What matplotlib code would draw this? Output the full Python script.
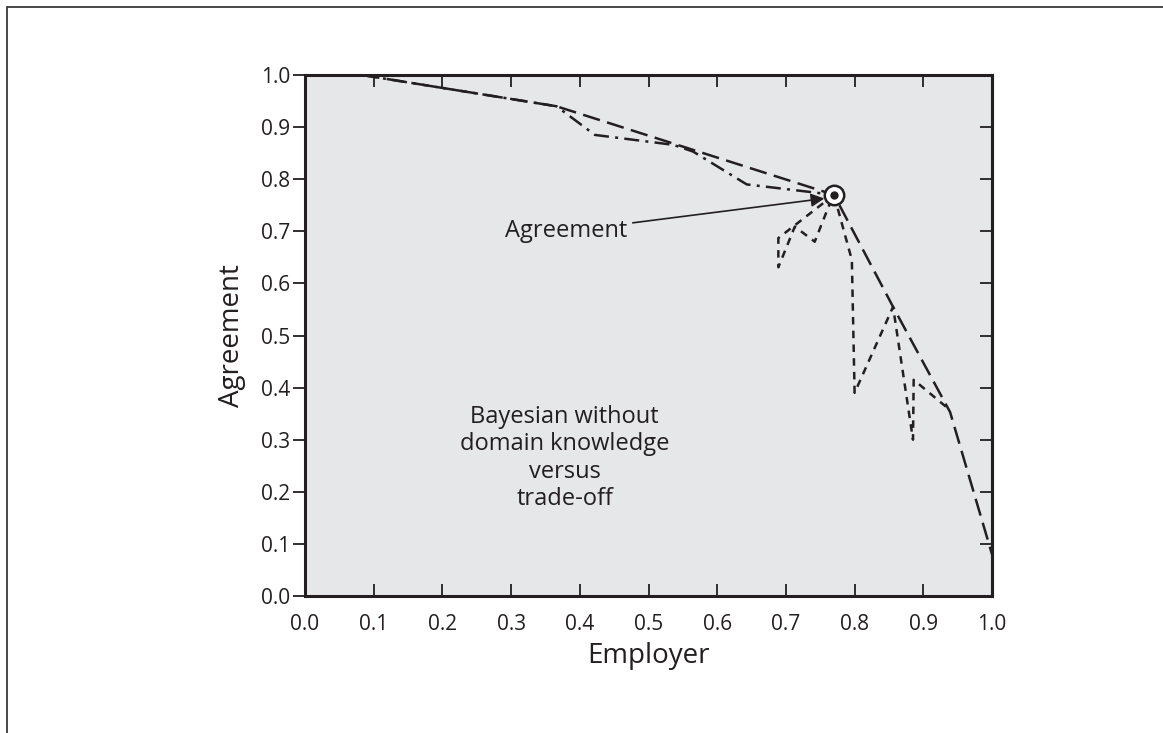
import matplotlib
matplotlib.use("Agg")
import matplotlib.pyplot as plt
from matplotlib.patches import Rectangle

# ---- data ----
dashed_x = [0.083, 0.366, 0.770, 0.856, 0.939, 1.000]
dashed_y = [1.000, 0.940, 0.770, 0.555, 0.353, 0.080]

dashdot_x = [0.083, 0.366, 0.422, 0.536, 0.565, 0.643, 0.770]
dashdot_y = [1.000, 0.940, 0.885, 0.866, 0.853, 0.790, 0.770]

dotted_x = [0.770, 0.689, 0.689, 0.713, 0.742, 0.762, 0.770,
            0.796, 0.800, 0.856, 0.885, 0.886, 0.936]
dotted_y = [0.770, 0.687, 0.631, 0.709, 0.680, 0.747, 0.770,
            0.645, 0.390, 0.555, 0.300, 0.415, 0.360]

agreement_pt = (0.770, 0.770)
ticks = [0.0, 0.1, 0.2, 0.3, 0.4, 0.5, 0.6, 0.7, 0.8, 0.9, 1.0]
tick_labels = ["0.0", "0.1", "0.2", "0.3", "0.4", "0.5", "0.6", "0.7", "0.8", "0.9", "1.0"]

plt.rcParams['font.family'] = ['Open Sans', 'DejaVu Sans']
INK = '#231f20'

fig = plt.figure(figsize=(11.63, 7.33), dpi=100)
fig.patch.set_facecolor('white')

# outer frame
fig.patches.append(Rectangle((7/1163, -0.05), 1.2, 1 - 7/733 + 0.05,
                             transform=fig.transFigure, fill=False,
                             edgecolor='#3a3a3a', linewidth=1.3))

ax = fig.add_axes([305/1163, 1 - 596/733, 687/1163, 521/733])
ax.set_facecolor('#e6e7e8')
ax.set_xlim(0, 1)
ax.set_ylim(0, 1)

ax.plot(dashed_x, dashed_y, color=INK, lw=1.8, dashes=(7, 3))
ax.plot(dashdot_x, dashdot_y, color=INK, lw=1.8, dashes=(6, 2.5, 1.2, 2.5))
ax.plot(dotted_x, dotted_y, color=INK, lw=1.8, dashes=(3, 2.5))

ax.plot(*agreement_pt, marker='o', ms=14, mfc='white', mec=INK, mew=1.8, zorder=5)
ax.plot(*agreement_pt, marker='o', ms=5, mfc=INK, mec=INK, zorder=6)

ax.annotate('Agreement', xy=(0.756, 0.763), xytext=(0.469, 0.70),
            fontsize=17, color=INK, ha='right', va='center',
            arrowprops=dict(arrowstyle='-|>', color=INK, lw=1.2,
                            mutation_scale=20, shrinkA=2, shrinkB=0))

ax.text(0.378, 0.265, 'Bayesian without\ndomain knowledge\nversus\ntrade-off',
        ha='center', va='center', fontsize=17, color=INK, linespacing=1.2)

ax.set_xticks(ticks)
ax.set_xticklabels(tick_labels)
ax.set_yticks(ticks)
ax.set_yticklabels(tick_labels)
ax.tick_params(axis='x', direction='in', top=True, length=8.5, width=1.3,
               labelsize=15, colors=INK, pad=13)
ax.tick_params(axis='y', direction='out', length=8.5, width=1.3,
               labelsize=15, colors=INK, pad=2)

sec = ax.secondary_yaxis('right')
sec.set_yticks(ticks)
sec.tick_params(direction='in', length=8.5, width=1.3, labelright=False, colors=INK)
sec.spines['right'].set_linewidth(2.2)
sec.spines['right'].set_color(INK)

for s in ax.spines.values():
    s.set_linewidth(2.2)
    s.set_color(INK)

ax.set_xlabel('Employer', fontsize=20, color=INK, labelpad=5)
ax.set_ylabel('Agreement', fontsize=20, color=INK, labelpad=11)

fig.savefig('out.png', dpi=100)
